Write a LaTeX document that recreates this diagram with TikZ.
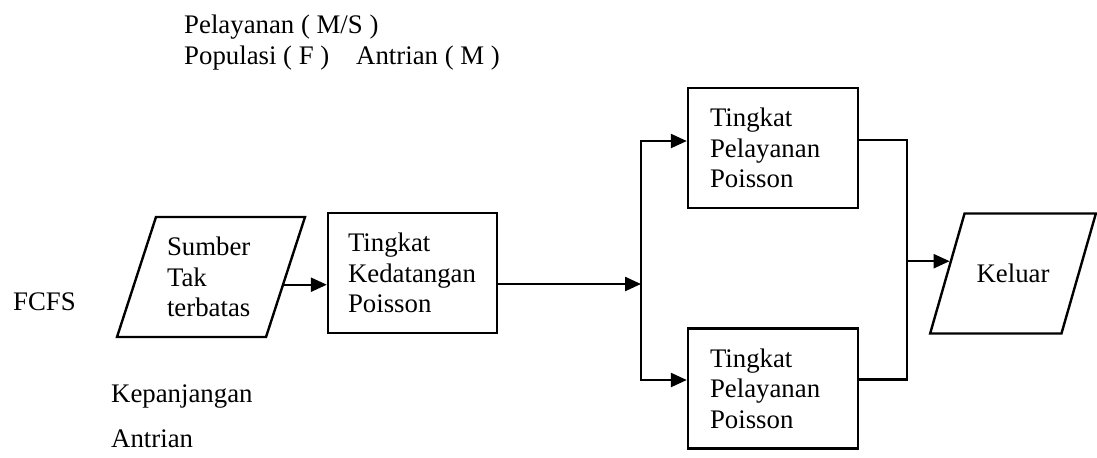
\documentclass[tikz,border=0pt]{standalone}
\usepackage{fontspec}
\setmainfont{Liberation Serif}
\usetikzlibrary{shapes.geometric}
\usetikzlibrary{arrows.meta}

\begin{document}
\begin{tikzpicture}
[x=0.5pt,y=-0.5pt,line width=1.2pt,%
  >={Triangle[length=8pt,width=7pt]},%
  box/.style={draw,rectangle,align=left,inner xsep=10pt,minimum height=60pt},%
  io/.style={draw,trapezium,align=left},%
  lbl/.style={anchor=base west,inner sep=0pt}]
\fontsize{13.4pt}{15.3pt}\selectfont
\useasboundingbox (0,0) rectangle (1097,457);
\node[lbl] (pel) at (183,33) {Pelayanan ( M/S )};
\node[lbl] (pop) at (183,64) {Populasi ( F )};
\node[lbl] (ant) at (355,64) {Antrian ( M )};
\node[lbl] (fcfs) at (12,310) {FCFS};
\node[lbl] (kep) at (110,402) {Kepanjangan};
\node[lbl] (kepb) at (110,447) {Antrian};
\node[io,trapezium left angle=72,trapezium right angle=108,
  text width=44pt,inner xsep=5.5pt,inner ysep=10pt] (src) at (211,277)
  {Sumber\\Tak\\terbatas};
\node[box,text width=64.5pt] (arv) at (412.5,273)
  {Tingkat\\Kedatangan\\Poisson};
\node[box,text width=63pt,inner xsep=11pt] (srvA) at (773,148)
  {Tingkat\\Pelayanan\\Poisson};
\node[box,text width=63pt,inner xsep=11pt] (srvB) at (773,388.5)
  {Tingkat\\Pelayanan\\Poisson};
\node[io,trapezium left angle=74,trapezium right angle=106,
  text height=9.2pt,text depth=0pt,inner xsep=6pt,inner ysep=25.4pt]
  (out) at (1013,273.5) {Keluar};
\coordinate (jl) at (641,284);
\coordinate (jr) at (907,261);
\draw[->] (src.-6) -- (src.-6 -| arv.west);
\draw[->] (arv.east |- jl) -- (jl);
\draw[->] (jl) |- ([yshift=3.5pt]srvA.west);
\draw[->] (jl) |- ([yshift=4.25pt]srvB.west);
\draw ([yshift=4pt]srvA.east) -| (jr);
\draw ([yshift=4.5pt]srvB.east) -| (jr);
\draw[->] (jr |- out.169) -- (out.169);
\end{tikzpicture}
\end{document}
